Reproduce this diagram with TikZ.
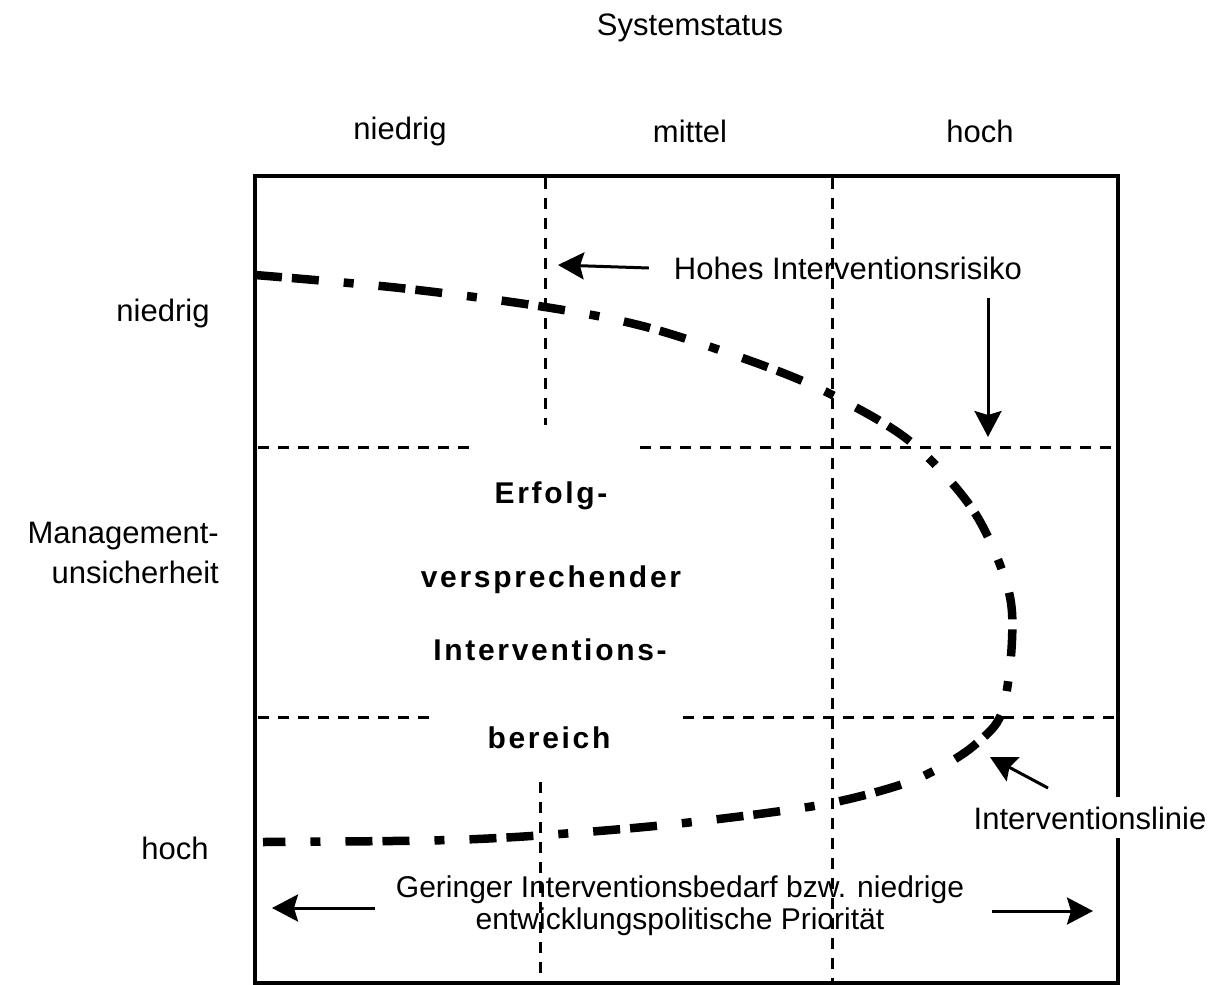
\documentclass[tikz,border=0pt]{standalone}
\usepackage{tkz-euclide}
\usepackage{fontspec}
\setmainfont{Liberation Sans}
\usetikzlibrary{arrows.meta}
\tikzset{
    gridline/.style={line width=3pt,dash pattern=on 11pt off 9pt},
    boxline/.style={line width=3.8pt},
    ilinie/.style={line width=8.5pt,dash pattern=on 27pt off 10pt on 27pt off 25pt on 10pt off 25pt},
    pointer/.style={line width=3pt,-{Stealth[length=26pt,width=27pt,inset=4pt]}},
    lbl/.style={font=\fontsize{31}{40}\selectfont,inner sep=0pt},
    bereich/.style={font=\fontsize{30}{34}\selectfont\bfseries\addfontfeatures{LetterSpace=9},inner sep=0pt,anchor=base}
}
\begin{document}
\begin{tikzpicture}[x=1pt,y=-1pt]

    \useasboundingbox (0,0) rectangle (1210,985);

    \tkzDefPoint(255,176){TL}
    \tkzDefPoint(1118,176){TR}
    \tkzDefPoint(255,983){BL}
    \tkzDefPoint(1118,983){BR}
    \tkzDefPoint(1118,797){Ra}
    \tkzDefPoint(1118,838){Rb}
    \draw[boxline] (Ra) -- (TR) -- (TL) -- (BL) -- (BR) -- (Rb);

    \tkzDefPoint(545,178){Va}
    \tkzDefPoint(545,425){Vb}
    \tkzDefPoint(540,782){Vc}
    \tkzDefPoint(540,983){Vd}
    \tkzDefPoint(832,178){Ve}
    \tkzDefPoint(832,983){Vf}
    \tkzDefPoint(258,447){Ha}
    \tkzDefPoint(473,447){Hb}
    \tkzDefPoint(640,447){Hc}
    \tkzDefPoint(1116,447){Hd}
    \tkzDefPoint(258,717){He}
    \tkzDefPoint(430,717){Hf}
    \tkzDefPoint(683,717){Hg}
    \tkzDefPoint(1116,717){Hh}
    \draw[gridline] (Va) -- (Vb) (Vc) -- (Vd) (Ve) -- (Vf);
    \draw[gridline] (Ha) -- (Hb) (Hc) -- (Hd) (He) -- (Hf) (Hg) -- (Hh);

    \draw[ilinie] plot[smooth,tension=0.55] coordinates {(255,275) (400,288) (545,307) (650,328) (770,368) (840,399) (912,443) (973,510) (1007,585) (1012,640) (1002,712) (977,743) (943,766) (900,785) (820,805) (693,822) (573,833) (450,840) (263,842)};

    \node[lbl] (sys) at (690,28) {Systemstatus};
    \node[lbl] (colA) at (400,131) {niedrig};
    \node[lbl] (colB) at (690,131) {mittel};
    \node[lbl] (colC) at (980,131) {hoch};
    \node[lbl] (rowA) at (163,313) {niedrig};
    \node[lbl,align=right,anchor=east] (rowB) at (219,553) {Management-\\unsicherheit};
    \node[lbl] (rowC) at (175,848) {hoch};

    \node[lbl] (risk) at (848,268) {Hohes Interventionsrisiko};
    \tkzDefPoint(558,265){riskTip}
    \tkzDefPoint(988,298){downTail}
    \tkzDefPoint(988,437){downTip}
    \draw[pointer] ([xshift=-25pt]risk.west) -- (riskTip);
    \draw[pointer] (downTail) -- (downTip);

    \node[bereich] (erfolg) at (551,503) {Erfolg-};
    \node[bereich] (verspr) at (551,587) {versprechender};
    \node[bereich] (interv) at (550,660) {Interventions-};
    \node[bereich] (ber) at (549,748) {bereich};

    \node[lbl] (linie) at (1090,818) {Interventionslinie};
    \tkzDefPoint(1048,788){linieTail}
    \tkzDefPoint(990,757){linieTip}
    \draw[pointer] (linieTail) -- (linieTip);

    \node[lbl,align=center,font=\fontsize{30}{32}\selectfont] (bedarf) at (680,906) {Geringer Interventionsbedarf bzw. niedrige\\entwicklungspolitische Priorität};
    \tkzDefPoint(375,908){leftTail}
    \tkzDefPoint(272,908){leftTip}
    \tkzDefPoint(992,911){rightTail}
    \tkzDefPoint(1093,911){rightTip}
    \draw[pointer] (leftTail) -- (leftTip);
    \draw[pointer] (rightTail) -- (rightTip);

\end{tikzpicture}
\end{document}
